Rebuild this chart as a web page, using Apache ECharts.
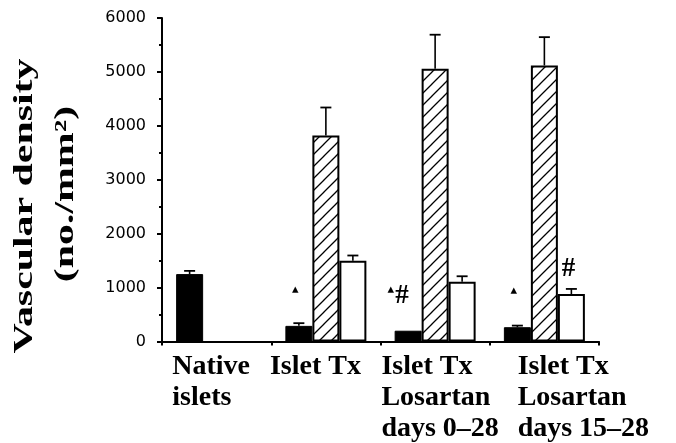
<!DOCTYPE html>
<html>
<head>
<meta charset="utf-8">
<script src="https://cdn.jsdelivr.net/npm/echarts@6/dist/echarts.min.js"></script>
<style>
html, body {margin: 0; padding: 0; background: #fff;}
#chartDiv {width: 676px; height: 443px;}
</style>
</head>
<body>
<div id="chartDiv"></div>
<script>
// 数据
const categories = ['Native\nislets', 'Islet Tx', 'Islet Tx\nLosartan\ndays 0\u201328', 'Islet Tx\nLosartan\ndays 15\u201328'];
const blackValues = [1250, 290, 200, 265];
const blackErrors = [60, 50, 0, 30];
const hatchValues = [null, 3820, 5060, 5120];
const hatchErrors = [null, 520, 630, 525];
const whiteValues = [null, 1500, 1110, 880];
const whiteErrors = [null, 95, 100, 95];
const blackMarks = ['', '\u25B4', '\u25B4#', '\u25B4'];
const whiteMarks = ['', '', '', '#'];
const yTicks = [0, 1000, 2000, 3000, 4000, 5000, 6000];

let myChart = echarts.init(document.getElementById('chartDiv'));

const barWidth = 27;
const serif = '"Liberation Serif", "Times New Roman", serif';

// 斜线填充
let hatch = document.createElement('canvas');
hatch.width = 12;
hatch.height = 12;
let ctx = hatch.getContext('2d');
ctx.fillStyle = '#fff';
ctx.fillRect(0, 0, 12, 12);
ctx.strokeStyle = '#000';
ctx.lineWidth = 1.3;
ctx.beginPath();
ctx.moveTo(-1, 13); ctx.lineTo(13, -1);
ctx.moveTo(-4, 4); ctx.lineTo(4, -4);
ctx.moveTo(8, 16); ctx.lineTo(16, 8);
ctx.stroke();

// x轴标签的左右偏移
const labelPads = [[0, 11, 0, 0], [0, 21, 0, 0], [0, 0, 0, 10], [0, 0, 0, 78]];

const markRich = {
	t: {fontSize: 13, fontFamily: 'DejaVu Sans', color: '#000', verticalAlign: 'top', padding: [0, 1, 8, 0]},
	h: {fontSize: 27, fontWeight: 'bold', fontFamily: serif, color: '#000'}
};

function markLabel(text) {
	if (!text) return {show: false};
	if (text === '#') {
		return {show: true, position: 'top', distance: 12, offset: [-3, 0], formatter: '{h|#}', rich: markRich};
	}
	if (text.length > 1) {
		return {show: true, position: 'top', distance: 21, offset: [-10, 0], formatter: '{t|\u25B4}{h|#}', rich: markRich};
	}
	return {show: true, position: 'top', distance: 22, offset: [-3, 0], formatter: '{t|\u25B4}', rich: markRich};
}

function barData(values, marks) {
	return values.map(function (v, i) {
		if (v === null) return '-';
		let item = {value: v};
		if (marks) {
			item.label = markLabel(marks[i]);
		}
		return item;
	});
}

function errData(values, errors) {
	let out = [];
	values.forEach(function (v, i) {
		if (v !== null && errors[i]) out.push([i, v, errors[i]]);
	});
	return out;
}

function errRenderer(k) {
	return function (params, api) {
		let i = api.value(0);
		let v = api.value(1);
		let e = api.value(2);
		let base = api.coord([i, v]);
		let top = api.coord([i, v + e]);
		let x = base[0] + (k - 1) * barWidth;
		return {
			type: 'group',
			children: [
				{type: 'line', shape: {x1: x, y1: base[1], x2: x, y2: top[1]}, style: {stroke: '#000', lineWidth: 1.6}},
				{type: 'line', shape: {x1: x - 5.5, y1: top[1], x2: x + 5.5, y2: top[1]}, style: {stroke: '#000', lineWidth: 1.8}}
			]
		};
	};
}

let option = {
	backgroundColor: '#fff',
	animation: false,
	grid: {left: 162, right: 77, top: 18, bottom: 100},
	graphic: [
		{
			type: 'text', x: 25, y: 206, rotation: Math.PI / 2, scaleX: 1.55,
			style: {text: 'Vascular density', font: 'bold 27px ' + serif, fill: '#000', align: 'center', verticalAlign: 'middle'}
		},
		{
			type: 'text', x: 66, y: 194, rotation: Math.PI / 2, scaleX: 1.55,
			style: {text: '(no./mm\u00B2)', font: 'bold 27px ' + serif, fill: '#000', align: 'center', verticalAlign: 'middle'}
		}
	],
	xAxis: {
		type: 'category',
		data: categories.map(function (c, i) {
			return {value: c, textStyle: {padding: labelPads[i]}};
		}),
		axisLine: {lineStyle: {color: '#000', width: 2}},
		axisTick: {show: true, length: 4, lineStyle: {color: '#000', width: 2}},
		axisLabel: {
			interval: 0,
			margin: 10,
			align: 'center',
			formatter: function (value) {
				return value.split('\n').map(function (s) { return '{a|' + s + '}'; }).join('\n');
			},
			rich: {
				a: {align: 'left', fontSize: 28, fontWeight: 'bold', fontFamily: serif, color: '#000', lineHeight: 31}
			}
		},
		splitLine: {show: false}
	},
	yAxis: {
		type: 'value',
		min: yTicks[0],
		max: yTicks[yTicks.length - 1],
		interval: 1000,
		axisLine: {show: true, lineStyle: {color: '#000', width: 2}},
		axisTick: {show: true, length: 5, lineStyle: {color: '#000', width: 2}},
		minorTick: {show: true, splitNumber: 2, length: 3, lineStyle: {color: '#000', width: 2}},
		axisLabel: {
			margin: 16, fontSize: 16, fontFamily: 'DejaVu Sans', color: '#000',
			formatter: function (v) { return String(v); }
		},
		splitLine: {show: false}
	},
	series: [
		{
			type: 'bar', name: 'black', barWidth: barWidth, barGap: '0%',
			data: barData(blackValues, blackMarks),
			itemStyle: {color: '#000', borderColor: '#000', borderWidth: 1},
			z: 2
		},
		{
			type: 'bar', name: 'hatched', barWidth: barWidth, barGap: '0%',
			data: barData(hatchValues),
			itemStyle: {color: {image: hatch, repeat: 'repeat'}, borderColor: '#000', borderWidth: 2},
			z: 2
		},
		{
			type: 'bar', name: 'white', barWidth: barWidth, barGap: '0%',
			data: barData(whiteValues, whiteMarks),
			itemStyle: {color: '#fff', borderColor: '#000', borderWidth: 2},
			z: 2
		},
		{type: 'custom', renderItem: errRenderer(0), data: errData(blackValues, blackErrors), encode: {x: 0, y: 1}, z: 3},
		{type: 'custom', renderItem: errRenderer(1), data: errData(hatchValues, hatchErrors), encode: {x: 0, y: 1}, z: 3},
		{type: 'custom', renderItem: errRenderer(2), data: errData(whiteValues, whiteErrors), encode: {x: 0, y: 1}, z: 3}
	]
};

myChart.setOption(option);
</script>
</body>
</html>
